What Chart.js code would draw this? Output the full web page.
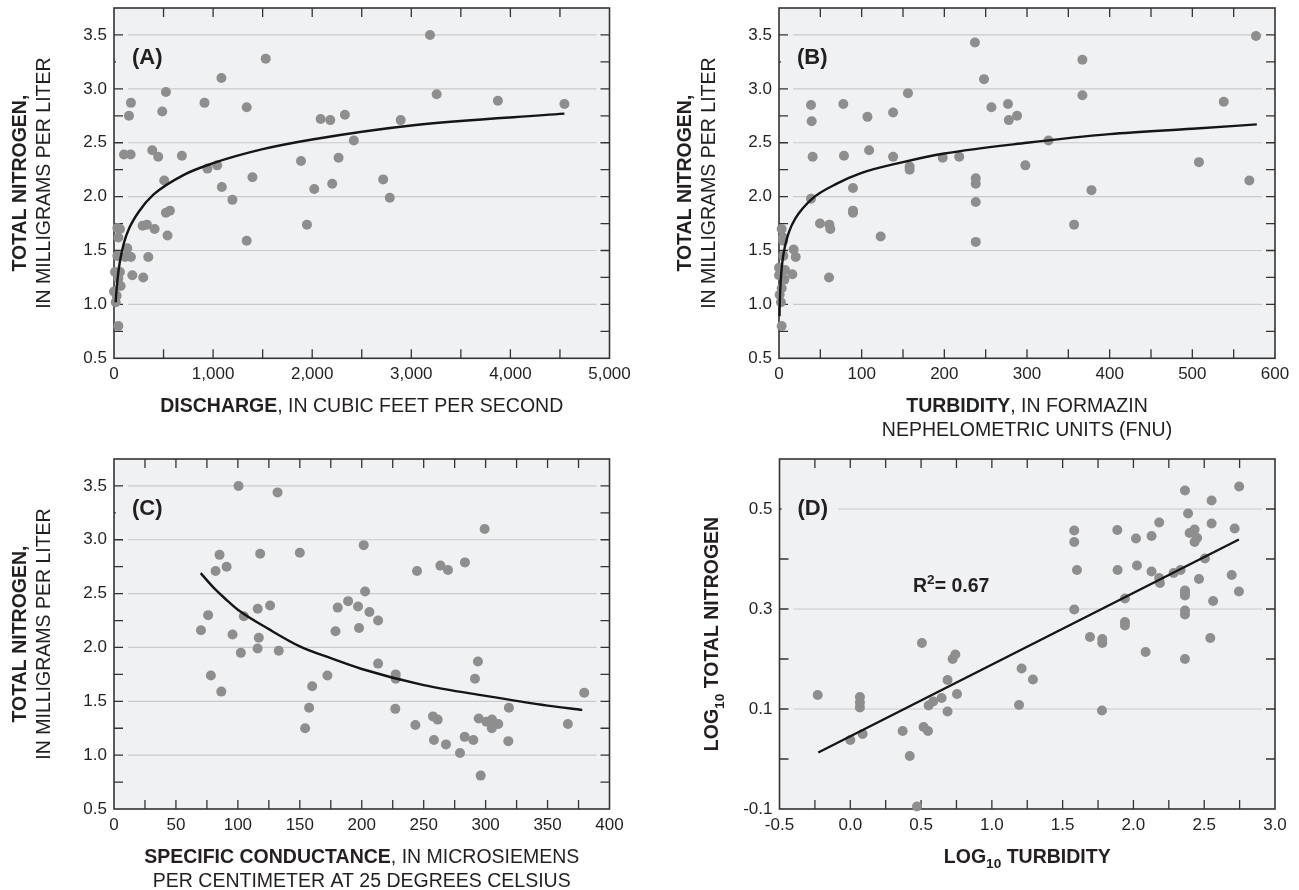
<!DOCTYPE html>
<html>
<head>
<meta charset="utf-8">
<title>Total nitrogen relations</title>
<script src="https://cdn.jsdelivr.net/npm/chart.js@4.4.1/dist/chart.umd.min.js"></script>
<style>
  html, body { margin: 0; padding: 0; background: #fff; }
  #wrap { position: relative; width: 1299px; height: 890px; }
  canvas { position: absolute; }
</style>
</head>
<body>
<div id="wrap">
  <canvas id="chartA" width="650" height="445" style="left:0;top:0"></canvas>
  <canvas id="chartB" width="649" height="445" style="left:650px;top:0"></canvas>
  <canvas id="chartC" width="650" height="445" style="left:0;top:445px"></canvas>
  <canvas id="chartD" width="649" height="445" style="left:650px;top:445px"></canvas>
</div>
<script>
// ---- (A) discharge, cfs vs total nitrogen, mg/L
const dischargeX = [1531, 1084, 524, 171, 913, 487, 1339, 151, 2085, 2182, 2330, 2420, 101, 168, 386, 446, 685, 943, 1041, 1397,
  1887, 2266, 507, 1088, 1195, 2021, 2202, 524, 564, 289, 332, 410, 540, 1339, 1947, 34, 60, 44, 134, 34,
  111, 171, 346, 10, 60, 44, 67, 185, 295, 0, 27, 17, 44, 3189, 3256, 3874, 4545, 2893, 2716, 2783];
const dischargeN = [3.28, 3.10, 2.97, 2.87, 2.87, 2.79, 2.83, 2.75, 2.72, 2.71, 2.76, 2.52, 2.39, 2.39, 2.43, 2.37, 2.38, 2.26, 2.29, 2.18,
  2.33, 2.36, 2.15, 2.09, 1.97, 2.07, 2.12, 1.85, 1.87, 1.73, 1.74, 1.70, 1.64, 1.59, 1.74, 1.71, 1.70, 1.62, 1.52, 1.45,
  1.44, 1.44, 1.44, 1.30, 1.30, 1.24, 1.17, 1.27, 1.25, 1.12, 1.08, 1.02, 0.80, 3.50, 2.95, 2.89, 2.86, 2.71, 2.16, 1.99];
const dischargeFitX = [17, 25, 40, 60, 100, 150, 250, 400, 700, 1000, 1500, 2000, 3000, 4545];
const dischargeFitN = [1.02, 1.13, 1.27, 1.40, 1.57, 1.70, 1.86, 2.02, 2.20, 2.31, 2.44, 2.53, 2.66, 2.77];

// ---- (B) turbidity, FNU vs total nitrogen
const turbidityX = [237, 248, 257, 156, 38.7, 39.5, 77.8, 107, 138, 40.7, 78.6, 109, 138, 158, 158, 198, 218, 38.7, 89.5, 89.5,
  89.5, 49.6, 60.9, 62.1, 123, 238, 238, 238, 238, 60.5, 3.2, 4.8, 5.2, 5.2, 17.7, 20.2, 0, 0, 6.5, 7.3,
  16.1, 3.2, 0.8, 2.4, 3.2, 577, 367, 367, 277, 278, 288, 326, 298, 378, 357, 508, 538, 569];
const turbidityN = [3.43, 3.09, 2.83, 2.96, 2.85, 2.70, 2.86, 2.74, 2.78, 2.37, 2.38, 2.43, 2.37, 2.28, 2.25, 2.36, 2.37, 1.98, 2.08, 1.87,
  1.85, 1.75, 1.74, 1.70, 1.63, 2.17, 2.12, 1.95, 1.58, 1.25, 1.70, 1.62, 1.59, 1.45, 1.51, 1.44, 1.34, 1.27, 1.23, 1.32,
  1.28, 1.15, 1.09, 1.02, 0.80, 3.49, 3.27, 2.94, 2.86, 2.71, 2.75, 2.52, 2.29, 2.06, 1.74, 2.32, 2.88, 2.15];
const turbidityFitX = [0.6, 1, 2, 4, 7, 12, 20, 40, 70, 100, 150, 200, 300, 400, 500, 578];
const turbidityFitN = [0.89, 1.03, 1.21, 1.39, 1.53, 1.67, 1.80, 1.98, 2.12, 2.22, 2.32, 2.40, 2.50, 2.58, 2.63, 2.67];

// ---- (C) specific conductance vs total nitrogen
const conductanceX = [100.5, 132, 85.2, 118, 150, 82, 90.9, 201.6, 202.7, 116, 126, 180.6, 189, 197, 206.2, 76, 104.8, 70.2, 95.7, 178.8,
  197.8, 116.9, 115.9, 133, 102.4, 78.2, 86.6, 172.3, 160, 157.5, 154.3, 299.2, 244.6, 263.5, 269.6, 283.3, 213.2, 213.2, 227.4, 227.4,
  227.1, 243.3, 257.5, 261.3, 258.3, 268, 279.3, 283.1, 290.1, 293.8, 291.4, 294.4, 296, 300.6, 305.1, 305, 310.2, 318.3, 318.8, 366.4, 379.6];
const conductanceN = [3.50, 3.44, 2.86, 2.87, 2.88, 2.71, 2.75, 2.95, 2.52, 2.36, 2.39, 2.37, 2.43, 2.38, 2.33, 2.30, 2.29, 2.16, 2.12, 2.15,
  2.18, 2.09, 1.99, 1.97, 1.95, 1.74, 1.59, 1.74, 1.64, 1.44, 1.25, 3.10, 2.71, 2.76, 2.72, 2.79, 2.25, 1.85, 1.75, 1.71,
  1.43, 1.28, 1.36, 1.33, 1.14, 1.10, 1.02, 1.17, 1.14, 1.87, 1.71, 1.34, 0.81, 1.31, 1.33, 1.25, 1.29, 1.13, 1.44, 1.29, 1.58];
const conductanceFitX = [70, 80, 90, 100, 125, 150, 175, 200, 250, 300, 350, 378];
const conductanceFitN = [2.69, 2.56, 2.45, 2.35, 2.17, 2.01, 1.90, 1.80, 1.65, 1.55, 1.46, 1.42];

// ---- (D) log10 turbidity vs log10 total nitrogen
const logTurbidity = [-0.23, 0.068, 0.068, 0.068, 0.0, 0.087, 0.37, 0.42, 0.471, 0.506, 0.518, 0.549, 0.553, 0.586, 0.645, 0.687, 0.687, 0.723, 0.742, 0.754,
  1.192, 1.21, 1.29, 1.582, 1.582, 1.601, 1.582, 1.693, 1.78, 1.78, 1.778, 1.886, 1.888, 1.94, 1.94, 1.94, 2.018, 2.025, 2.086, 2.128,
  2.128, 2.182, 2.182, 2.187, 2.284, 2.333, 2.364, 2.386, 2.397, 2.432, 2.45, 2.432, 2.463, 2.505, 2.364, 2.364, 2.364, 2.364, 2.364, 2.364,
  2.543, 2.552, 2.552, 2.563, 2.694, 2.715, 2.745, 2.747];
const logNitrogen = [0.128, 0.124, 0.113, 0.103, 0.038, 0.05, 0.056, 0.006, -0.095, 0.232, 0.064, 0.056, 0.107, 0.115, 0.122, 0.158, 0.095, 0.20, 0.209, 0.13,
  0.108, 0.181, 0.159, 0.457, 0.434, 0.378, 0.299, 0.244, 0.24, 0.232, 0.097, 0.458, 0.378, 0.321, 0.274, 0.267, 0.441, 0.387, 0.214, 0.446,
  0.375, 0.473, 0.362, 0.352, 0.372, 0.378, 0.537, 0.491, 0.452, 0.459, 0.442, 0.434, 0.36, 0.401, 0.337, 0.333, 0.327, 0.297, 0.289, 0.2,
  0.242, 0.517, 0.471, 0.316, 0.368, 0.461, 0.335, 0.545];
const logFitX = [-0.226, 2.745];
const logFitN = [0.013, 0.439];
const rSquared = '0.67';

// ---- ticks
const nitrogenTicks = [0.5, 0.75, 1, 1.25, 1.5, 1.75, 2, 2.25, 2.5, 2.75, 3, 3.25, 3.5, 3.75];
const nitrogenLabels = ['0.5', '', '1.0', '', '1.5', '', '2.0', '', '2.5', '', '3.0', '', '3.5', ''];
const dischargeTicks = [0, 500, 1000, 1500, 2000, 2500, 3000, 3500, 4000, 4500, 5000];
const dischargeLabels = ['0', '', '1,000', '', '2,000', '', '3,000', '', '4,000', '', '5,000'];
const turbidityTicks = [0, 50, 100, 150, 200, 250, 300, 350, 400, 450, 500, 550, 600];
const turbidityLabels = ['0', '', '100', '', '200', '', '300', '', '400', '', '500', '', '600'];
const conductanceTicks = [0, 25, 50, 75, 100, 125, 150, 175, 200, 225, 250, 275, 300, 325, 350, 375, 400];
const conductanceLabels = ['0', '', '50', '', '100', '', '150', '', '200', '', '250', '', '300', '', '350', '', '400'];
const logTurbTicks = [-0.5, -0.25, 0, 0.25, 0.5, 0.75, 1, 1.25, 1.5, 1.75, 2, 2.25, 2.5, 2.75, 3];
const logTurbLabels = ['-0.5', '', '0.0', '', '0.5', '', '1.0', '', '1.5', '', '2.0', '', '2.5', '', '3.0'];
const logNTicks = [-0.1, 0, 0.1, 0.2, 0.3, 0.4, 0.5, 0.6];
const logNLabels = ['-0.1', '', '0.1', '', '0.3', '', '0.5', ''];

const FONT = '"Liberation Sans", Arial, Helvetica, sans-serif';
const PLOT_BG = '#f0f1f3';
const DOT = '#8e8e8e';
const INK = '#231f20';

// draw a line of mixed bold / normal / sub / sup text
function rich(ctx, segs, x, y, size, align) {
  let total = 0;
  const parts = segs.map(s => {
    const fs = (s.sub || s.sup) ? size * 0.7 : size;
    const font = (s.b ? 'bold ' : '') + fs + 'px ' + FONT;
    ctx.font = font;
    const w = ctx.measureText(s.t).width;
    total += w;
    return { s, font, w };
  });
  let cx = align === 'left' ? x : x - total / 2;
  ctx.textAlign = 'left';
  ctx.textBaseline = 'alphabetic';
  parts.forEach(p => {
    ctx.font = p.font;
    const dy = p.s.sub ? size * 0.3 : p.s.sup ? -size * 0.42 : 0;
    ctx.fillText(p.s.t, cx, y + dy);
    cx += p.w;
  });
  return total;
}

function makeDecor(cfg) {
  return {
    id: 'decor',
    beforeDatasetsDraw(chart) {
      const { ctx, chartArea: a, scales: { x, y } } = chart;
      ctx.save();
      ctx.fillStyle = PLOT_BG;
      ctx.fillRect(a.left, a.top, a.width, a.height);
      // gridlines on labelled y ticks
      ctx.strokeStyle = '#c9cacc';
      ctx.lineWidth = 1.2;
      y.ticks.forEach(t => {
        if (!t.label) return;
        const py = y.getPixelForValue(t.value);
        if (py <= a.top + 1 || py >= a.bottom - 1) return;
        ctx.beginPath();
        ctx.moveTo(a.left + 14, py);
        ctx.lineTo(a.right - 13, py);
        ctx.stroke();
      });
      // inward tick marks on all four sides
      ctx.strokeStyle = '#333';
      ctx.lineWidth = 1.3;
      const L = 9;
      x.ticks.forEach(t => {
        const px = x.getPixelForValue(t.value);
        if (px <= a.left + 1 || px >= a.right - 1) return;
        ctx.beginPath();
        ctx.moveTo(px, a.bottom); ctx.lineTo(px, a.bottom - L);
        ctx.moveTo(px, a.top); ctx.lineTo(px, a.top + L);
        ctx.stroke();
      });
      y.ticks.forEach(t => {
        const py = y.getPixelForValue(t.value);
        if (py <= a.top + 1 || py >= a.bottom - 1) return;
        ctx.beginPath();
        ctx.moveTo(a.left, py); ctx.lineTo(a.left + L, py);
        ctx.moveTo(a.right, py); ctx.lineTo(a.right - L, py);
        ctx.stroke();
      });
      ctx.lineWidth = 1.6;
      ctx.strokeRect(a.left, a.top, a.width, a.height);
      ctx.restore();
    },
    afterDatasetsDraw(chart) {
      const { ctx, chartArea: a, scales: { x, y } } = chart;
      ctx.save();
      ctx.fillStyle = INK;
      ctx.font = 'bold 22px ' + FONT;
      const w = ctx.measureText(cfg.tag).width;
      ctx.fillStyle = PLOT_BG;
      ctx.fillRect(a.left + 2, a.top + 36, w + 26, 26);
      ctx.fillStyle = INK;
      ctx.textAlign = 'left';
      ctx.textBaseline = 'alphabetic';
      ctx.fillText(cfg.tag, a.left + 18, a.top + 56);
      if (cfg.note) {
        rich(ctx, cfg.note.segs, x.getPixelForValue(cfg.note.x), y.getPixelForValue(cfg.note.y), 19.5, 'left');
      }
      ctx.restore();
    },
    afterDraw(chart) {
      const { ctx, chartArea: a } = chart;
      ctx.save();
      ctx.fillStyle = INK;
      const cx = (a.left + a.right) / 2;
      cfg.xTitle.forEach((line, i) => rich(ctx, line, cx, a.bottom + 53.5 + i * 24, 19.5));
      const cy = (a.top + a.bottom) / 2;
      cfg.yTitle.forEach((line, i) => {
        ctx.save();
        ctx.translate(a.left - cfg.yTitleOffsets[i], cy);
        ctx.rotate(-Math.PI / 2);
        rich(ctx, line, 0, 0, 19.5);
        ctx.restore();
      });
      ctx.restore();
    }
  };
}

function axis(min, max, ticks, labels, size, isX, pad) {
  return {
    type: 'linear',
    min: min,
    max: max,
    afterBuildTicks: ax => { ax.ticks = ticks.map(v => ({ value: v })); },
    afterFit: ax => {
      // fixed axis band, no extra room for end labels
      if (isX) ax.height = size; else ax.width = size;
      ax.paddingTop = 0; ax.paddingBottom = 0;
      ax.paddingLeft = 0; ax.paddingRight = 0;
    },
    ticks: {
      autoSkip: false,
      maxRotation: 0,
      minRotation: 0,
      padding: pad,
      color: INK,
      font: { family: FONT, size: 17 },
      callback: (v, i) => labels[i]
    },
    grid: { display: false, drawTicks: false },
    border: { display: false }
  };
}

function pairs(xs, ys) {
  return xs.map((v, i) => ({ x: v, y: ys[i] }));
}

function panel(id, cfg) {
  return new Chart(document.getElementById(id), {
    type: 'scatter',
    data: {
      datasets: [
        {
          data: pairs(cfg.fitX, cfg.fitY),
          showLine: true,
          borderColor: '#151515',
          borderWidth: 2.4,
          pointRadius: 0,
          cubicInterpolationMode: 'monotone',
          clip: false
        },
        {
          data: pairs(cfg.xs, cfg.ys),
          pointRadius: 5,
          pointBackgroundColor: DOT,
          pointBorderColor: DOT,
          pointBorderWidth: 0,
          clip: false
        }
      ]
    },
    options: {
      responsive: false,
      animation: false,
      devicePixelRatio: 1,
      events: [],
      layout: { autoPadding: false, padding: { left: 0, right: cfg.padRight, top: cfg.padTop, bottom: 0 } },
      plugins: { legend: { display: false }, tooltip: { enabled: false } },
      scales: {
        x: axis(cfg.xMin, cfg.xMax, cfg.xTicks, cfg.xLabels, cfg.xHeight, true, 6),
        y: axis(cfg.yMin, cfg.yMax, cfg.yTicks, cfg.yLabels, cfg.yWidth, false, 7)
      }
    },
    plugins: [makeDecor(cfg)]
  });
}

const nitrogenTitle = [
  [{ t: 'TOTAL NITROGEN,', b: true }],
  [{ t: 'IN MILLIGRAMS PER LITER' }]
];

panel('chartA', {
  tag: '(A)',
  xs: dischargeX, ys: dischargeN, fitX: dischargeFitX, fitY: dischargeFitN,
  xMin: 0, xMax: 5000, xTicks: dischargeTicks, xLabels: dischargeLabels,
  yMin: 0.5, yMax: 3.75, yTicks: nitrogenTicks, yLabels: nitrogenLabels,
  padRight: 40.5, padTop: 8, xHeight: 86.7, yWidth: 114,
  xTitle: [[{ t: 'DISCHARGE', b: true }, { t: ', IN CUBIC FEET PER SECOND' }]],
  yTitle: nitrogenTitle, yTitleOffsets: [88, 64]
});

panel('chartB', {
  tag: '(B)',
  xs: turbidityX, ys: turbidityN, fitX: turbidityFitX, fitY: turbidityFitN,
  xMin: 0, xMax: 600, xTicks: turbidityTicks, xLabels: turbidityLabels,
  yMin: 0.5, yMax: 3.75, yTicks: nitrogenTicks, yLabels: nitrogenLabels,
  padRight: 24, padTop: 8, xHeight: 86.7, yWidth: 129,
  xTitle: [[{ t: 'TURBIDITY', b: true }, { t: ', IN FORMAZIN' }], [{ t: 'NEPHELOMETRIC UNITS (FNU)' }]],
  yTitle: nitrogenTitle, yTitleOffsets: [88, 64]
});

panel('chartC', {
  tag: '(C)',
  xs: conductanceX, ys: conductanceN, fitX: conductanceFitX, fitY: conductanceFitN,
  xMin: 0, xMax: 400, xTicks: conductanceTicks, xLabels: conductanceLabels,
  yMin: 0.5, yMax: 3.75, yTicks: nitrogenTicks, yLabels: nitrogenLabels,
  padRight: 40.5, padTop: 14, xHeight: 81, yWidth: 114,
  xTitle: [[{ t: 'SPECIFIC CONDUCTANCE', b: true }, { t: ', IN MICROSIEMENS' }], [{ t: 'PER CENTIMETER AT 25 DEGREES CELSIUS' }]],
  yTitle: nitrogenTitle, yTitleOffsets: [88, 64]
});

panel('chartD', {
  tag: '(D)',
  xs: logTurbidity, ys: logNitrogen, fitX: logFitX, fitY: logFitN,
  xMin: -0.5, xMax: 3, xTicks: logTurbTicks, xLabels: logTurbLabels,
  yMin: -0.1, yMax: 0.6, yTicks: logNTicks, yLabels: logNLabels,
  padRight: 24, padTop: 14, xHeight: 81, yWidth: 129.5,
  xTitle: [[{ t: 'LOG', b: true }, { t: '10', b: true, sub: true }, { t: ' TURBIDITY', b: true }]],
  yTitle: [[{ t: 'LOG', b: true }, { t: '10', b: true, sub: true }, { t: ' TOTAL NITROGEN', b: true }]],
  yTitleOffsets: [61.5],
  note: { x: 0.443, y: 0.334, segs: [{ t: 'R', b: true }, { t: '2', b: true, sup: true }, { t: '= ' + rSquared, b: true }] }
});
</script>
</body>
</html>
